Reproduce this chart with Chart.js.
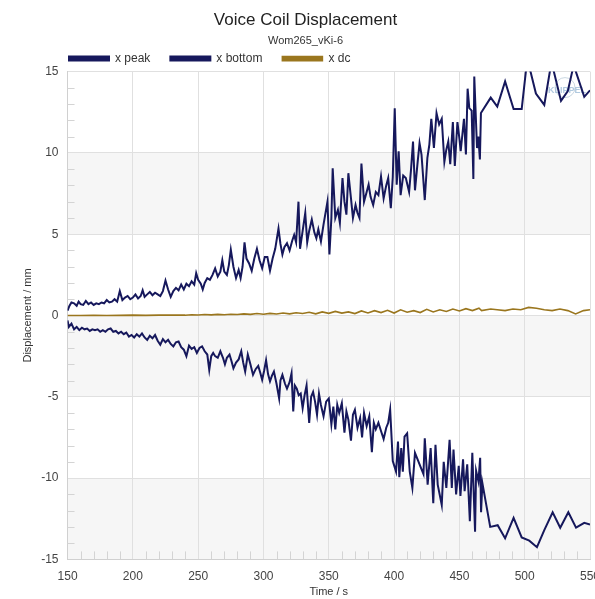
<html>
<body style="margin:0;background:#fff">
<div style="width:595px;height:599px">
    <canvas id="myChart"></canvas>
</div>
<script src="https://cdn.jsdelivr.net/npm/chart.js@4.4.0/dist/chart.umd.min.js"></script>
<script>
    // x peak
    const peakT = [
        150, 151.5, 153, 155, 157, 158.5, 160, 162, 164, 166,
        168, 170, 172, 174, 176, 178, 180, 182, 184, 186,
        188, 190, 192, 194, 196, 198, 200, 202, 204, 206,
        207.5, 209, 211, 213, 215, 217, 219, 221, 223, 225,
        227, 229, 231, 233, 235, 237, 239, 241, 243, 245,
        247, 248.5, 250, 252, 253.5, 255, 257, 259, 261, 263,
        265, 267, 268.5, 270, 272, 273.5, 275, 277, 279, 281,
        282.5, 284, 285.5, 287, 289, 291, 293, 295, 297, 299,
        301, 303, 305, 307, 309, 311.5, 313, 314.5, 316, 318,
        320, 322, 323.5, 325, 326.8, 328, 330, 332, 333.5, 335,
        337, 339, 340.5, 342, 344, 346, 349, 350.5, 352, 353,
        355, 357, 358.5, 360.5, 362, 363.5, 365, 367, 368.5, 370.5,
        372, 373.5, 375, 377, 379, 380.5, 382, 384, 386, 388,
        390, 392, 394, 395.5, 397.5, 399, 400.5, 402, 403.5, 405,
        407, 409, 411.5, 413, 414.5, 416, 418, 419.5, 421, 423.5,
        425.5, 427, 428.5, 430.5, 432.5, 434.5, 436.5, 438.5, 440, 441.5,
        443, 445, 446.5, 448.5, 450, 451, 453.5, 455, 456.3, 457.6,
        459.4, 460.7, 461.4, 463.5, 464.5, 465.7, 466.5, 474, 479, 485,
        491.5, 497.7, 502, 508.6, 515, 520.5, 527.8, 533, 537.5, 545.6,
        550
    ];
    const peakV = [
        0.3, 0.6, 0.8, 0.75, 0.6, 0.85, 0.7, 0.65, 0.9, 0.7,
        0.8, 0.65, 0.75, 0.7, 0.8, 0.75, 0.95, 0.8, 0.85, 1.0,
        0.85, 1.5, 0.95, 1.1, 1.2, 1.0, 1.1, 1.3, 1.05, 1.2,
        1.55, 1.15, 1.3, 1.45, 1.25, 1.4, 1.3, 1.2, 1.5, 2.15,
        1.6, 1.15, 1.5, 1.7, 1.55, 1.9, 1.6, 1.95, 1.8, 2.1,
        1.9, 2.6, 2.2, 1.95, 1.6, 2.0, 2.3, 2.2, 2.5, 2.9,
        2.4, 2.7, 3.4, 2.7, 2.5, 3.1, 4.05, 3.0, 2.3, 2.8,
        2.3, 3.0, 4.5, 3.5, 3.2, 2.75, 3.5, 4.1, 3.4, 2.9,
        3.6, 3.6, 2.75, 3.5, 4.1, 5.35, 4.4, 3.75, 4.2, 4.45,
        4.0, 4.6, 4.95, 4.5, 7.0, 4.1, 5.2, 6.3, 4.5, 5.2,
        5.9, 5.1, 4.75, 5.3, 4.55, 5.6, 7.0, 3.75, 6.0, 9.05,
        6.0, 6.5, 5.7, 8.45, 7.0, 6.2, 8.75, 7.2, 6.0, 6.8,
        6.3, 6.0, 9.35, 7.0, 7.6, 8.05, 7.3, 6.8, 7.6, 7.4,
        8.55, 7.2, 8.0, 8.45, 6.6, 8.5, 12.75, 8.05, 10.1, 7.4,
        8.6, 8.45, 7.6, 9.0, 10.7, 7.7, 9.4, 10.6, 9.9, 7.1,
        9.7, 10.5, 12.1, 10.3, 12.45, 11.75, 12.1, 9.45, 10.2, 10.7,
        9.3, 11.9, 9.2, 11.9, 10.9, 10.1, 12.1, 9.9, 13.95, 12.75,
        12.6, 8.4, 14.7, 10.3, 11.0, 9.6, 12.45, 13.4, 12.85, 14.4,
        12.7, 12.7, 15.8, 13.65, 12.95, 15.6, 13.2, 13.8, 15.4, 13.45,
        13.85
    ];

    // x bottom
    const bottomT = [
        150, 151, 153, 155, 157, 159, 161, 163, 165, 167,
        169, 171, 173, 175, 177, 179, 181, 183, 185, 187,
        189, 191, 193, 195, 197, 199, 201, 203, 205, 207,
        209, 211, 213, 215, 217, 219, 221, 223, 225, 227,
        229, 231, 233, 235, 237, 239, 241, 243, 245, 247,
        249, 251, 253, 255, 257, 258.5, 260, 261.5, 263, 265,
        267, 269, 270.5, 272, 274, 275.5, 277, 279, 281, 283,
        284.5, 286, 288, 290, 292, 294, 296, 297.5, 299, 300.5,
        302, 303.5, 305, 306.5, 308, 310, 312, 313, 314.5, 316.5,
        318, 320, 321.5, 322.8, 324, 325.5, 327, 328.5, 330, 331.5,
        333, 335, 336.5, 338, 339.5, 341, 342.5, 344, 346, 348,
        350, 352, 353.5, 355, 356.5, 358, 360, 362, 363.5, 365,
        367, 368.5, 370, 372, 374, 375.5, 377, 379, 381, 383,
        384.5, 386, 388, 390, 392, 394, 395.5, 397, 399, 401.5,
        403, 404, 405.5, 406.7, 408, 410, 412, 414, 416, 418,
        420.5, 422.5, 423.5, 425.7, 428, 430, 431.7, 433.4, 436.5, 438,
        440, 442.5, 444.2, 445.5, 447.5, 449.5, 450.8, 452.8, 454, 456,
        458, 459.9, 462, 462.8, 464.6, 465.9, 466.6, 467.6, 473.6, 479.3,
        485, 491.5, 497.7, 503.5, 509.4, 515, 521.4, 527.2, 533.4, 539.3,
        545.6, 550
    ];
    const bottomV = [
        -0.3, -0.7, -0.5, -0.85, -0.7, -0.9, -0.75, -0.85, -0.8, -0.95,
        -0.85, -0.9, -0.85, -1.0, -0.9, -1.0, -0.85, -0.8, -1.0, -0.95,
        -1.1, -1.0, -1.15, -1.05, -1.3, -1.2, -1.35, -1.15, -1.3, -1.1,
        -1.35, -1.5, -1.25, -1.4, -1.2, -1.55, -1.8, -1.45, -1.65, -1.5,
        -1.75, -1.9, -1.65, -1.6, -1.95, -2.1, -2.5, -1.85, -2.05, -1.95,
        -2.3, -2.0, -1.9, -2.2, -2.4, -3.35, -2.5, -2.3, -2.5, -2.6,
        -2.2, -2.6, -3.0, -2.6, -2.4, -2.8, -3.25, -2.9, -2.7, -2.2,
        -2.9, -3.45, -2.4, -3.0, -3.65, -3.3, -3.1, -3.5, -3.95, -3.4,
        -2.75, -3.6, -4.05, -3.7, -3.45, -4.2, -5.1, -4.0, -3.65, -4.2,
        -4.5, -4.1, -3.55, -5.9, -4.3, -4.5, -4.9, -4.8, -5.7, -4.9,
        -4.3, -6.6, -5.0, -4.7, -5.3, -6.1, -4.8, -5.5, -6.2, -5.3,
        -5.1, -6.7, -5.6, -7.0, -5.5, -6.0, -5.4, -7.2, -5.9, -6.4,
        -7.7, -6.1, -5.8, -6.9, -6.3, -7.5, -6.0, -6.8, -6.2, -8.4,
        -6.6, -7.0, -6.6, -7.1, -7.6, -6.9, -6.6, -5.8, -8.95, -9.6,
        -7.75, -9.95, -8.15, -9.6, -7.45, -7.25, -9.6, -10.6, -8.45, -8.85,
        -9.35, -9.75, -7.55, -10.4, -8.15, -11.55, -7.95, -10.4, -11.65, -9.0,
        -10.6, -7.65, -10.6, -8.25, -11.0, -9.25, -11.1, -8.85, -10.8, -9.15,
        -12.65, -8.45, -13.3, -9.55, -10.2, -8.75, -12.1, -10.3, -13.0, -12.9,
        -13.7, -12.45, -13.65, -13.85, -14.25, -13.2, -12.1, -13.05, -12.1, -13.05,
        -12.75, -12.85
    ];

    // x dc
    const dcT = [
        150, 160, 170, 180, 190, 200, 210, 220, 230, 240,
        245, 250, 255, 260, 265, 270, 275, 280, 285, 290,
        295, 300, 305, 310, 315, 320, 325, 330, 335, 340,
        345, 350, 355, 360, 365, 370, 375, 380, 385, 390,
        395, 400, 405, 410, 415, 420, 425, 430, 435, 440,
        445, 450, 455, 460, 465, 467, 474, 479, 485, 491,
        497, 503, 509, 515, 521, 527, 533, 539, 545, 550
    ];
    const dcV = [
        0.0, 0.0, 0.01, 0.0, 0.01, 0.02, 0.01, 0.02, 0.03, 0.02,
        0.05, 0.03, 0.06, 0.04, 0.07, 0.05, 0.08, 0.06, 0.1, 0.07,
        0.12, 0.08, 0.13, 0.09, 0.15, 0.1, 0.17, 0.12, 0.2, 0.1,
        0.22, 0.13, 0.25, 0.15, 0.22, 0.12, 0.28, 0.16, 0.3, 0.18,
        0.32, 0.15, 0.35, 0.2, 0.3, 0.18, 0.38, 0.22, 0.35, 0.25,
        0.4, 0.28, 0.42, 0.3, 0.45, 0.3, 0.4, 0.35, 0.3, 0.4,
        0.35, 0.5, 0.45, 0.35, 0.3, 0.4, 0.3, 0.1, 0.3, 0.35
    ];

    const xTicks = [150, 200, 250, 300, 350, 400, 450, 500, 550];
    const yTicks = [-15, -10, -5, 0, 5, 10, 15];

    const navy = "#16185c";
    const gold = "#9a761e";
    const font = "Arial, 'Liberation Sans', sans-serif";

    function pts(t, v) {
        return t.map((x, i) => ({x: x, y: v[i]}));
    }

    // grey bands, minor ticks, watermark
    const decor = {
        id: "decor",
        afterLayout(chart) {
            chart.legend.left = 49;
            chart.legend.top += 3;
        },
        beforeDraw(chart) {
            const {ctx, chartArea: a, scales: {y}} = chart;
            ctx.save();
            ctx.fillStyle = "#f6f6f6";
            [[5, 10], [-5, 0], [-15, -10]].forEach(b => {
                const y1 = y.getPixelForValue(b[1]), y0 = y.getPixelForValue(b[0]);
                ctx.fillRect(a.left, y1, a.right - a.left, y0 - y1);
            });
            ctx.restore();
        },
        beforeDatasetsDraw(chart) {
            const {ctx, chartArea: a, scales: {x, y}} = chart;
            ctx.save();
            ctx.strokeStyle = "#d4d4d4";
            ctx.lineWidth = 1;
            ctx.beginPath();
            for (let v = -14; v < 15; v++) {
                if (v % 5 === 0) continue;
                const py = Math.round(y.getPixelForValue(v)) + 0.5;
                ctx.moveTo(a.left, py);
                ctx.lineTo(a.left + 7, py);
            }
            for (let t = 160; t < 550; t += 10) {
                if (t % 50 === 0) continue;
                const px = Math.round(x.getPixelForValue(t)) + 0.5;
                ctx.moveTo(px, a.bottom);
                ctx.lineTo(px, a.bottom - 8);
            }
            ctx.stroke();
            ctx.globalAlpha = 0.55;
            ctx.fillStyle = "#6f9cc4";
            ctx.font = "bold 9px " + font;
            ctx.textAlign = "right";
            ctx.fillText("KLIPPEL", a.right - 4, a.top + 19);
            ctx.strokeStyle = "#9fb6c9";
            ctx.beginPath();
            ctx.arc(a.right - 25, a.top + 16, 10, 0, Math.PI * 2);
            ctx.stroke();
            ctx.restore();
        }
    };

    new Chart("myChart", {
        type: "line",
        data: {
            datasets: [{
                label: "x peak",
                data: pts(peakT, peakV),
                borderColor: navy,
                backgroundColor: navy,
                borderWidth: 2
            }, {
                label: "x bottom",
                data: pts(bottomT, bottomV),
                borderColor: navy,
                backgroundColor: navy,
                borderWidth: 2
            }, {
                label: "x dc",
                data: pts(dcT, dcV),
                borderColor: gold,
                backgroundColor: gold,
                borderWidth: 1.6
            }]
        },
        options: {
            responsive: true,
            maintainAspectRatio: false,
            animation: false,
            elements: {point: {radius: 0}, line: {tension: 0}},
            layout: {padding: {left: 21, right: 5, bottom: 0}},
            plugins: {
                title: {
                    display: true,
                    text: "Voice Coil Displacement",
                    color: "#222",
                    font: {family: font, size: 17, weight: "normal"},
                    padding: {top: 10, bottom: -15}
                },
                subtitle: {
                    display: true,
                    text: "Wom265_vKi-6",
                    color: "#333",
                    font: {family: font, size: 11},
                    padding: {top: 19, bottom: -18}
                },
                legend: {
                    align: "start",
                    labels: {
                        boxWidth: 40,
                        boxHeight: 4,
                        padding: 20,
                        color: "#333",
                        font: {family: font, size: 12}
                    }
                },
                tooltip: {enabled: false}
            },
            scales: {
                x: {
                    type: "linear",
                    min: 150,
                    max: 550,
                    afterFit: s => { s.paddingRight = 0; },
                    afterBuildTicks: s => { s.ticks = xTicks.map(v => ({value: v})); },
                    title: {display: true, text: "Time / s", color: "#333", font: {family: font, size: 11}, padding: {top: -8, bottom: 0}},
                    ticks: {color: "#444", font: {family: font, size: 12}, maxRotation: 0, padding: 10},
                    grid: {color: "#e0e0e0", drawTicks: false},
                    border: {color: "#d0d0d0"}
                },
                y: {
                    min: -15,
                    max: 15,
                    afterBuildTicks: s => { s.ticks = yTicks.map(v => ({value: v})); },
                    title: {display: true, text: "Displacement / mm", color: "#333", font: {family: font, size: 11}, padding: {top: 0, bottom: -2}},
                    ticks: {color: "#444", font: {family: font, size: 12}, padding: 9},
                    grid: {color: "#e0e0e0", drawTicks: false},
                    border: {color: "#d0d0d0"}
                }
            }
        },
        plugins: [decor]
    });
</script>
</body>
</html>
